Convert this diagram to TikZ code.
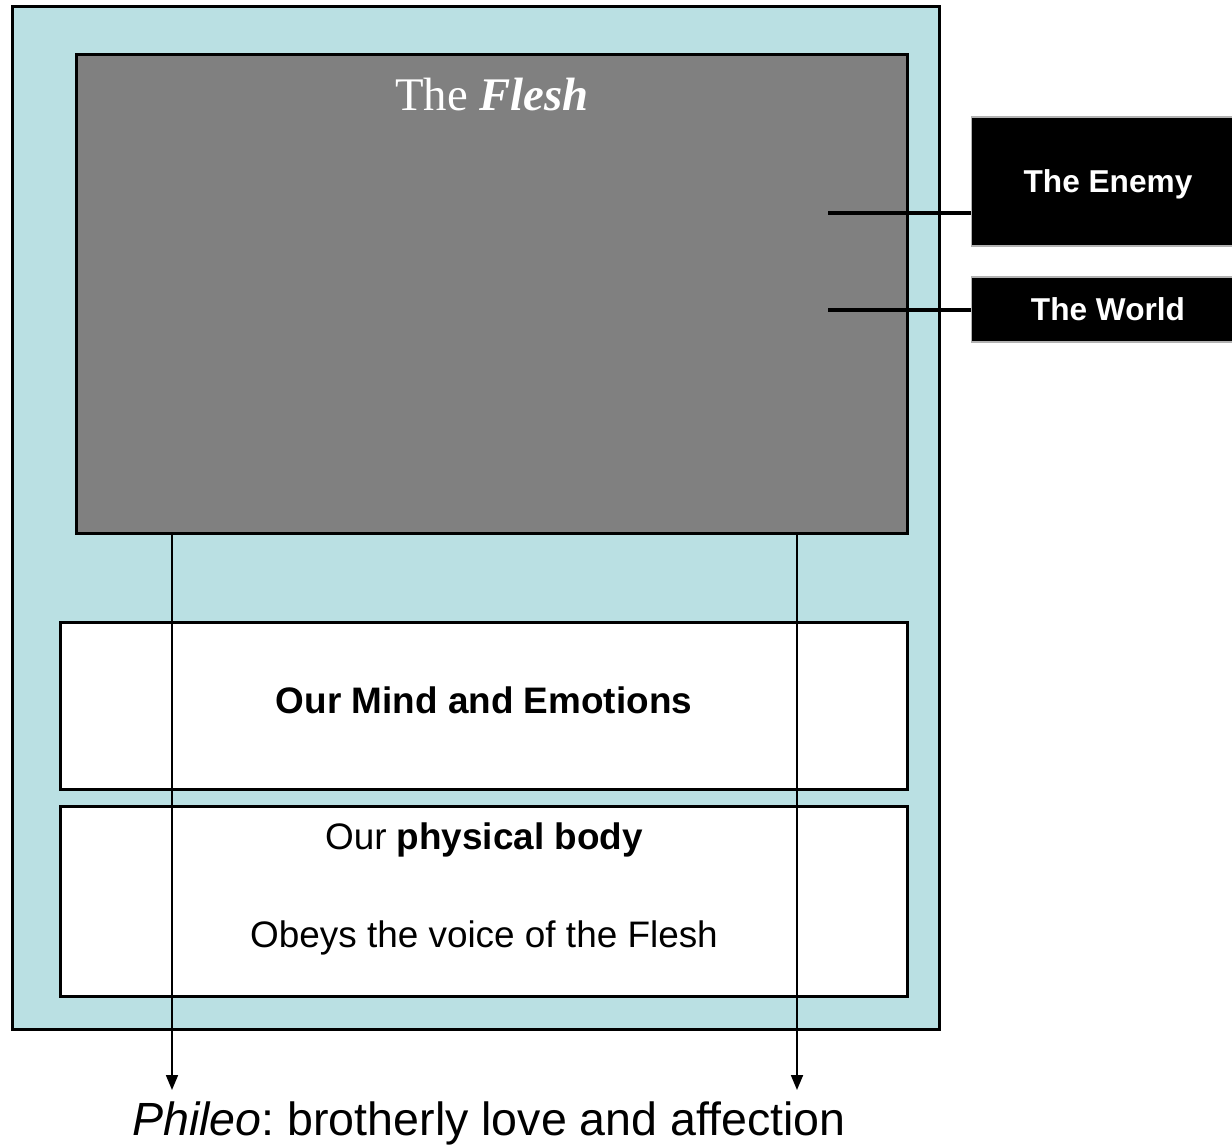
\documentclass[tikz,border=0pt]{standalone}
\usepackage{fontspec}
\setmainfont{Liberation Sans}
\newfontfamily\fleshfont{Liberation Serif}
\usetikzlibrary{arrows.meta}
\frenchspacing
\definecolor{soul}{RGB}{186,224,227}
\definecolor{carnal}{RGB}{128,128,128}
\tikzset{
  panel/.style={draw, line width=1.7pt, rectangle, inner sep=0pt},
  enemybox/.style={fill=black, draw=gray!60, line width=0.6pt, rectangle, inner sep=0pt,
    text=white, text depth=0pt, font=\fontsize{18}{21}\selectfont\bfseries},
  tie/.style={line width=2.4pt},
  pull/.style={line width=1.1pt, -{Triangle[width=6.8pt,length=8.5pt]}},
  say/.style={font=\fontsize{21}{25}\selectfont}
}
\begin{document}
\begin{tikzpicture}[x=0.02cm, y=-0.02cm]
    \useasboundingbox (0,0) rectangle (1232,1148);
    % the person
    \node[panel, fill=soul, minimum width=18.56cm, minimum height=20.48cm] (person) at (476,518) {};
    \node[panel, fill=carnal, minimum width=16.64cm, minimum height=9.6cm] (flesh) at (492,294) {};
    \node[font=\fleshfont\fontsize{26.6}{30}\selectfont, text=white] (fleshlabel) at (492,95) {The \textbf{\textit{Flesh}}};
    \node[panel, fill=white, minimum width=16.96cm, minimum height=3.36cm] (mind) at (484,706) {};
    \node[say, font=\fontsize{21}{25}\selectfont\bfseries] (mindlabel) at (484,700) {Our Mind and Emotions};
    \node[panel, fill=white, minimum width=16.96cm, minimum height=3.82cm] (body) at (484,901.5) {};
    \node[say] (bodylabel) at (484,840) {Our \textbf{physical body}};
    \node[say] (obeys) at (484,938) {Obeys the voice of the Flesh};

    % outside forces
    \node[enemybox, minimum width=5.48cm, minimum height=2.58cm] (enemy) at (1108,181.5) {The Enemy};
    \node[enemybox, minimum width=5.48cm, minimum height=1.3cm] (world) at (1108,309.5) {The World};
    \coordinate (e) at (828,213);
    \coordinate (w) at (828,310);
    \draw[tie] (e) -- (e -| enemy.west);
    \draw[tie] (w) -- (w -| world.west);

    % love
    \node[font=\fontsize{26.5}{30}\selectfont, anchor=base] (phileo) at (489,1135) {\textit{Phileo}: brotherly love and affection};
    \foreach \x in {172,797} {
        \coordinate (top) at (\x,534);
        \coordinate (tip) at (\x,1090);
        \draw[pull] (top) -- (tip);
      }
  \end{tikzpicture}
\end{document}
